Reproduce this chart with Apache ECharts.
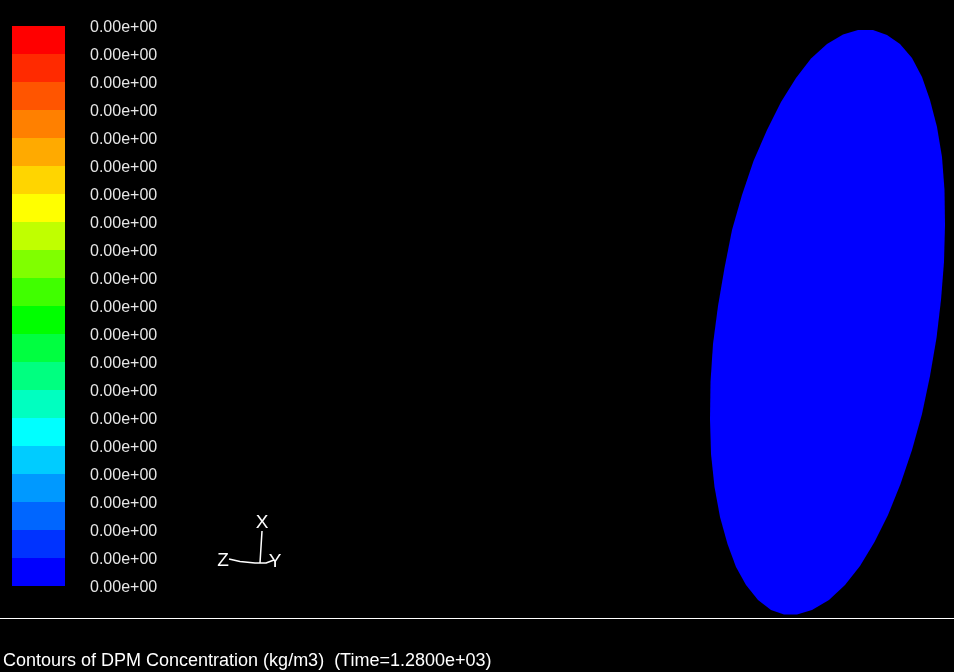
<!DOCTYPE html>
<html>
<head>
<meta charset="utf-8">
<style>html,body{margin:0;padding:0;background:#000}#c{width:954px;height:672px}</style>
<script src="https://cdn.jsdelivr.net/npm/echarts@6/dist/echarts.min.js"></script>
</head>
<body>
<div id="c"></div>
<script>
// colour bar, bottom to top
const bandColors = ['#0000ff','#0033ff','#0066ff','#0099ff','#00ccff','#00ffff','#00ffc0','#00ff80','#00ff40','#00ff00',
  '#40ff00','#80ff00','#c0ff00','#ffff00','#ffd500','#ffaa00','#ff8000','#ff5500','#ff2a00','#ff0000'];
const bandSizes = [1,1,1,1,1,1,1,1,1,1,1,1,1,1,1,1,1,1,1,1];
const tickLabels = ['0.00e+00','0.00e+00','0.00e+00','0.00e+00','0.00e+00','0.00e+00','0.00e+00',
  '0.00e+00','0.00e+00','0.00e+00','0.00e+00','0.00e+00','0.00e+00','0.00e+00',
  '0.00e+00','0.00e+00','0.00e+00','0.00e+00','0.00e+00','0.00e+00','0.00e+00'];
// contour outline
const contourOutline = [[945,225],[944.5,190],[942,157],[937,127],[930,100],[922,77],[912,58],[900,44],[887,35],[873,30],[858,30],[843,34.5],
  [827,44],[811,58.5],[796,78],[781,102],[767,130],[753.5,161],[742,195],[732,230],[724.5,268],[718,306],[713,344],[710.5,382],
  [710,419],[711,454],[714.5,487],[720,517],[727.5,544],[736,567],[746,585],[758,600],[771,610],[784,614.5],[797,614.5],[812,610],
  [829,600],[845,585],[860,566],[874.5,542],[888,515],[900.5,484],[912,450],[922,414],[930,376],[936.5,338],[941,300],[944,262]];
const contourColor = '#0000ff';
// orientation triad
const triadX = [[262,531],[260,563]];
const triadZ = [[229,559],[240,561.5],[255,563],[260,563]];
const triadY = [[260,563],[266,563],[274,560]];
const triadLabels = [['X',262,523],['Z',223,561],['Y',275,562]];
const ruleLine = [[0,618.5],[954,618.5]];
const titleText = 'Contours of DPM Concentration (kg/m3)  (Time=1.2800e+03)';

const font = 'Liberation Sans, Arial, sans-serif';
const chart = echarts.init(document.getElementById('c'), null, {renderer:'canvas'});
const triadLine = (d) => ({type:'line', xAxisIndex:1, yAxisIndex:1, data:d, symbol:'none', silent:true,
  lineStyle:{color:'#fff', width:1.5}, animation:false});
chart.setOption({
  backgroundColor:'#000',
  animation:false,
  title:{text:titleText, left:3, top:652, textStyle:{color:'#fff', fontFamily:font, fontSize:18, fontWeight:'normal'}, padding:0},
  grid:[
    {left:12, top:26, width:53, height:560},
    {left:0, top:0, width:954, height:672},
    {left:12, top:28, width:53, height:560}
  ],
  xAxis:[
    {type:'category', gridIndex:0, data:['c'], show:false},
    {type:'value', gridIndex:1, min:0, max:954, show:false},
    {type:'value', gridIndex:2, min:0, max:1, show:false}
  ],
  yAxis:[
    {type:'value', gridIndex:0, min:0, max:20, show:false},
    {type:'value', gridIndex:1, min:0, max:672, inverse:true, show:false},
    {type:'value', gridIndex:2, min:0, max:20, interval:1, position:'right',
      axisLine:{show:false}, axisTick:{show:false}, splitLine:{show:false},
      axisLabel:{show:true, margin:25, color:'#e6e6e6', fontFamily:font, fontSize:16, align:'left', showMinLabel:true, showMaxLabel:true,
        formatter:(v)=>tickLabels[Math.round(v)]}}
  ],
  series:[
    ...bandColors.map((c,i)=>({type:'bar', stack:'bar', xAxisIndex:0, yAxisIndex:0, barWidth:'100%', data:[bandSizes[i]],
      itemStyle:{color:c}, silent:true})),
    {type:'custom', xAxisIndex:1, yAxisIndex:1, silent:true, clip:false, data:[0],
      renderItem:(p,api)=>({type:'polygon',
        shape:{points:contourOutline.map(q=>api.coord(q))},
        style:{fill:contourColor, stroke:contourColor, lineWidth:0}})},
    triadLine(triadX), triadLine(triadZ), triadLine(triadY),
    {type:'line', xAxisIndex:1, yAxisIndex:1, data:ruleLine, symbol:'none', silent:true, lineStyle:{color:'#fff', width:1}},
    {type:'scatter', xAxisIndex:1, yAxisIndex:1, symbolSize:0, silent:true, itemStyle:{opacity:1},
      data:triadLabels.map(t=>({value:[t[1],t[2]], name:t[0]})),
      label:{show:true, position:'inside', formatter:'{b}', color:'#fff', fontFamily:font, fontSize:19}}
  ]
});
</script>
</body>
</html>
